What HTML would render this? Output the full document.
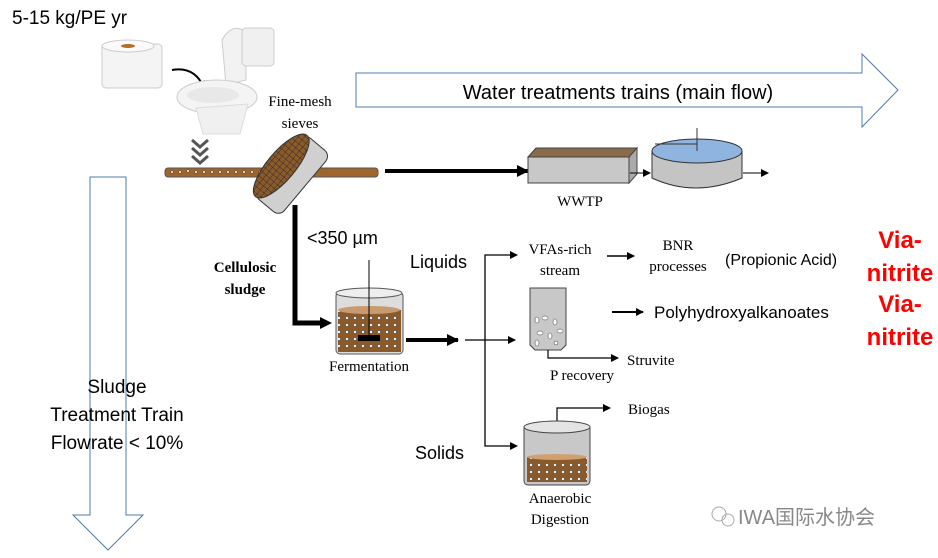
<!DOCTYPE html>
<html><head><meta charset="utf-8"><style>
body{margin:0;background:#fff;}
svg{display:block}
.s{font-family:"Liberation Sans",sans-serif}
.t{font-family:"Liberation Serif",serif}
</style></head><body>
<svg width="938" height="558" viewBox="0 0 938 558" xmlns="http://www.w3.org/2000/svg">
<defs>
<marker id="a" markerWidth="8" markerHeight="8" refX="7" refY="4" orient="auto" markerUnits="userSpaceOnUse"><path d="M0,0 L8,4 L0,8 Z" fill="#000"/></marker>
<marker id="b" markerWidth="12" markerHeight="12" refX="11" refY="6" orient="auto" markerUnits="userSpaceOnUse"><path d="M0,0 L12,6 L0,12 Z" fill="#000"/></marker>
<pattern id="dots" width="8" height="7" patternUnits="userSpaceOnUse"><rect width="8" height="7" fill="#8a5a2b"/><circle cx="3" cy="3" r="1.6" fill="#eee" stroke="#333" stroke-width=".5"/></pattern>
<pattern id="mesh" width="5" height="5" patternUnits="userSpaceOnUse"><rect width="5" height="5" fill="#8a5a2b"/><path d="M0,0 L5,0 M0,0 L0,5" stroke="#222" stroke-width=".8"/></pattern>
</defs>
<text x="12" y="24" class="s" font-size="19">5-15 kg/PE yr</text>
<!-- toilet paper -->
<rect x="102" y="44" width="60" height="44" rx="4" fill="#f4f4f4" stroke="#ccc"/>
<ellipse cx="128" cy="46" rx="26" ry="6" fill="#fafafa" stroke="#ccc"/>
<ellipse cx="128" cy="46" rx="7" ry="2" fill="#b0702a"/>
<path d="M172,70 Q195,66 204,88" fill="none" stroke="#000" stroke-width="2" marker-end="url(#a)"/>
<!-- toilet -->
<path d="M222,40 Q232,22 246,32 L246,80 L226,85 Z" fill="#f2f2f2" stroke="#ccc"/>
<rect x="242" y="28" width="32" height="38" rx="4" fill="#f0f0f0" stroke="#ccc"/>
<ellipse cx="217" cy="97" rx="40" ry="17" fill="#f4f4f4" stroke="#ccc"/>
<ellipse cx="213" cy="95" rx="26" ry="8" fill="#e8e8e8"/>
<path d="M196,108 L203,134 L240,134 L248,104 Z" fill="#f0f0f0" stroke="#ddd"/>
<!-- chevrons -->
<path d="M192,140 L200,147 L208,140 M192,148 L200,155 L208,148 M192,156 L200,163 L208,156" fill="none" stroke="#555" stroke-width="3"/>
<!-- pipe -->
<rect x="165" y="168" width="213" height="9" rx="3" fill="#a0652a" stroke="#555"/>
<g fill="#fff" stroke="#333" stroke-width=".5"><circle cx="172" cy="172" r="1.3"/><circle cx="180" cy="172" r="1.3"/><circle cx="188" cy="171" r="1.3"/><circle cx="196" cy="172" r="1.3"/><circle cx="204" cy="172" r="1.3"/><circle cx="212" cy="172" r="1.3"/><circle cx="220" cy="172" r="1.3"/><circle cx="228" cy="172" r="1.3"/><circle cx="236" cy="172" r="1.3"/><circle cx="244" cy="172" r="1.3"/><circle cx="252" cy="172" r="1.3"/><circle cx="260" cy="172" r="1.3"/></g>
<!-- sieve -->
<g transform="rotate(-50 292 175)">
<rect x="252" y="158" width="80" height="34" rx="8" fill="#d0d0d0" stroke="#333"/>
<ellipse cx="292" cy="161" rx="40" ry="14" fill="url(#mesh)" stroke="#333"/>
</g>
<text x="300" y="106" text-anchor="middle" class="t" font-size="15">Fine-mesh</text>
<text x="300" y="128" text-anchor="middle" class="t" font-size="15">sieves</text>
<!-- main arrow -->
<path d="M356,73 L862,73 L862,54 L898,90 L862,127 L862,107 L356,107 Z" fill="#fff" stroke="#4f7bb0" stroke-width="1"/>
<text x="618" y="99" text-anchor="middle" class="s" font-size="20">Water treatments trains (main flow)</text>
<!-- sludge arrow -->
<path d="M90,177 L126,177 L126,515 L143,515 L108,550 L73,515 L90,515 Z" fill="none" stroke="#4f7bb0" stroke-width="1"/>
<text x="117" y="393" text-anchor="middle" class="s" font-size="19">Sludge</text>
<text x="117" y="421" text-anchor="middle" class="s" font-size="19">Treatment Train</text>
<text x="117" y="449" text-anchor="middle" class="s" font-size="19">Flowrate &lt; 10%</text>
<!-- to WWTP -->
<line x1="385" y1="171" x2="528" y2="171" stroke="#000" stroke-width="4" marker-end="url(#b)"/>
<path d="M528,157 L536,148 L637,148 L629,157 Z" fill="#8a6a4a" stroke="#444"/>
<rect x="528" y="157" width="101" height="26" fill="#c8c8c8" stroke="#444"/>
<path d="M629,157 L637,148 L637,174 L629,183 Z" fill="#aaa" stroke="#444"/>
<text x="580" y="206" text-anchor="middle" class="t" font-size="15">WWTP</text>
<line x1="630" y1="173" x2="650" y2="173" stroke="#000" marker-end="url(#a)"/>
<path d="M652,151 L652,178 Q695,198 742,178 L742,151" fill="#c4c4c4" stroke="#333"/>
<ellipse cx="697" cy="151" rx="45" ry="12" fill="#8fb4e0" stroke="#333"/>
<line x1="697" y1="128" x2="697" y2="151" stroke="#333"/>
<line x1="655" y1="144" x2="697" y2="144" stroke="#333"/>
<line x1="743" y1="173" x2="768" y2="173" stroke="#000" marker-end="url(#a)"/>
<!-- sludge line -->
<path d="M295,205 L295,323 L322,323" fill="none" stroke="#000" stroke-width="5"/>
<path d="M320,317 L332,323 L320,329 Z"/>
<text x="307" y="244" class="s" font-size="18">&lt;350 µm</text>
<text x="245" y="272" text-anchor="middle" class="t" font-size="15" font-weight="bold">Cellulosic</text>
<text x="245" y="294" text-anchor="middle" class="t" font-size="15" font-weight="bold">sludge</text>
<!-- fermentation tank -->
<rect x="336" y="292" width="67" height="62" rx="4" fill="#ddd" stroke="#555"/>
<ellipse cx="369" cy="293" rx="33" ry="5" fill="#eee" stroke="#555"/>
<rect x="338" y="310" width="63" height="42" fill="url(#dots)"/>
<ellipse cx="369" cy="310" rx="31" ry="4" fill="#c89a70"/>
<line x1="369" y1="260" x2="369" y2="338" stroke="#000"/>
<rect x="358" y="335" width="22" height="6" fill="#000"/>
<text x="369" y="371" text-anchor="middle" class="t" font-size="15">Fermentation</text>
<line x1="406" y1="340" x2="458" y2="340" stroke="#000" stroke-width="4" marker-end="url(#b)"/>
<line x1="465" y1="340" x2="515" y2="340" stroke="#000" stroke-width="1.3" marker-end="url(#a)"/>
<path d="M515,255 L485,255 L485,446 L515,446" fill="none" stroke="#000" stroke-width="1.3"/>
<line x1="505" y1="255" x2="517" y2="255" stroke="#000" marker-end="url(#a)"/>
<line x1="505" y1="446" x2="517" y2="446" stroke="#000" marker-end="url(#a)"/>
<text x="410" y="268" class="s" font-size="18">Liquids</text>
<text x="415" y="459" class="s" font-size="18">Solids</text>
<text x="560" y="254" text-anchor="middle" class="t" font-size="15">VFAs-rich</text>
<text x="560" y="275" text-anchor="middle" class="t" font-size="15">stream</text>
<line x1="607" y1="256" x2="634" y2="256" stroke="#000" stroke-width="1.5" marker-end="url(#a)"/>
<text x="678" y="250" text-anchor="middle" class="t" font-size="15">BNR</text>
<text x="678" y="271" text-anchor="middle" class="t" font-size="15">processes</text>
<text x="725" y="265" class="s" font-size="16">(Propionic Acid)</text>
<!-- column -->
<path d="M530,288 L566,288 L566,345 L561,350 L535,350 L530,345 Z" fill="#c8c8c8" stroke="#444"/>
<g fill="#fff" stroke="#333" stroke-width=".5"><ellipse cx="537" cy="320" rx="2" ry="3"/><ellipse cx="545" cy="318" rx="3" ry="2"/><ellipse cx="555" cy="322" rx="2" ry="3"/><ellipse cx="540" cy="333" rx="3" ry="2"/><ellipse cx="550" cy="336" rx="2" ry="3"/><ellipse cx="560" cy="331" rx="3" ry="2"/><ellipse cx="537" cy="343" rx="2" ry="3"/><ellipse cx="556" cy="343" rx="2" ry="2"/></g>
<line x1="612" y1="312" x2="643" y2="312" stroke="#000" stroke-width="2" marker-end="url(#a)"/>
<text x="654" y="318" class="s" font-size="17">Polyhydroxyalkanoates</text>
<path d="M548,350 L548,358 L618,358" fill="none" stroke="#000" stroke-width="1.2" marker-end="url(#a)"/>
<text x="627" y="365" class="t" font-size="15">Struvite</text>
<text x="582" y="380" text-anchor="middle" class="t" font-size="15">P recovery</text>
<!-- AD -->
<path d="M557,425 L557,408 L610,408" fill="none" stroke="#000" stroke-width="1.2" marker-end="url(#a)"/>
<text x="628" y="414" class="t" font-size="15">Biogas</text>
<rect x="524" y="425" width="66" height="60" rx="4" fill="#c8c8c8" stroke="#444"/>
<ellipse cx="557" cy="427" rx="33" ry="6" fill="#e4e4e4" stroke="#444"/>
<rect x="527" y="457" width="60" height="25" fill="url(#dots)"/>
<ellipse cx="557" cy="457" rx="30" ry="3" fill="#d0a070"/>
<text x="560" y="503" text-anchor="middle" class="t" font-size="15">Anaerobic</text>
<text x="560" y="524" text-anchor="middle" class="t" font-size="15">Digestion</text>
<!-- red -->
<g class="s" font-size="24" font-weight="bold" fill="#f00" text-anchor="middle">
<text x="900" y="248">Via-</text><text x="900" y="281">nitrite</text>
<text x="900" y="312">Via-</text><text x="900" y="345">nitrite</text>
</g>
<text x="738" y="524" font-family="'Liberation Sans','Noto Sans CJK SC',sans-serif" font-size="20" fill="#888">IWA国际水协会</text>
<circle cx="719" cy="514" r="7" fill="none" stroke="#aaa"/><circle cx="728" cy="520" r="6" fill="none" stroke="#aaa"/>
</svg>
</body></html>
